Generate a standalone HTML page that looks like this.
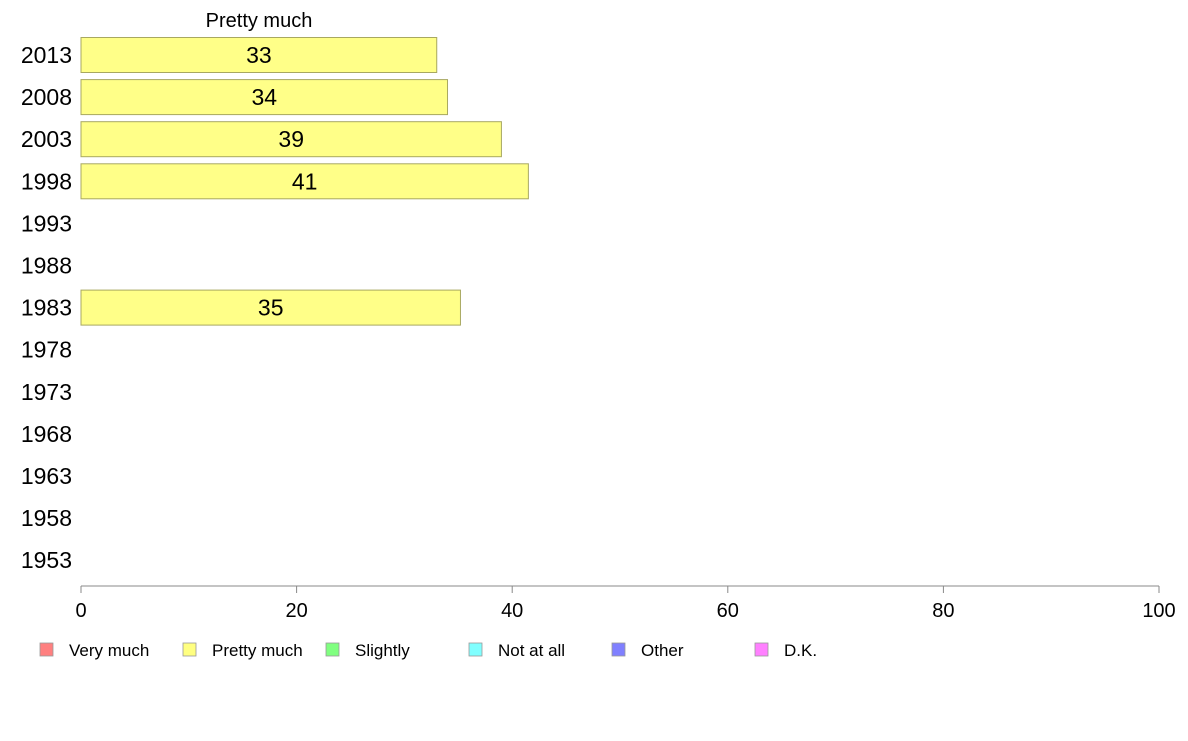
<!DOCTYPE html>
<html><head><meta charset="utf-8"><style>
body{margin:0;background:#fff;font-family:"Liberation Sans",sans-serif}
</style></head><body>
<svg id="chart" width="1188" height="736" xmlns="http://www.w3.org/2000/svg" font-family="Liberation Sans, sans-serif">
<text x="259" y="27" font-size="20" text-anchor="middle">Pretty much</text>
<g id="bars"></g><g id="ylabels"></g><g id="xaxis"></g><g id="legend"></g>
</svg>
<script>
const years=["2013","2008","2003","1998","1993","1988","1983","1978","1973","1968","1963","1958","1953"];
const values=[33,34,39,41.5,null,null,35.2,null,null,null,null,null,null];
const labels=["33","34","39","41","","","35","","","","","",""];
const xTicks=[0,20,40,60,80,100];
const legendNames=["Very much","Pretty much","Slightly","Not at all","Other","D.K."];
const legendColors=["#ff8080","#ffff80","#80ff80","#80ffff","#8080ff","#ff80ff"];
const NS="http://www.w3.org/2000/svg";
const x=v=>81+v*10.78;
const y=i=>55+i*42.1;
function mk(t,a,p){const e=document.createElementNS(NS,t);for(const k in a)e.setAttribute(k,a[k]);p.appendChild(e);return e;}
const bars=document.getElementById('bars'),yl=document.getElementById('ylabels');
years.forEach((yr,i)=>{
 const t=mk('text',{x:72,y:y(i)+8,'font-size':23,'text-anchor':'end'},yl);t.textContent=yr;
 
 
 if(values[i]!=null){
  const r=mk('rect',{x:x(0),y:y(i)-17.5,width:x(values[i])-x(0),height:35,fill:'#ffff88',stroke:'#a8a860','stroke-width':1},bars);
  
  
  const l=mk('text',{x:(x(0)+x(values[i]))/2,y:y(i)+8,'font-size':23,'text-anchor':'middle'},bars);l.textContent=labels[i];
  
  
 }
});
const xa=document.getElementById('xaxis');
const al=mk('line',{x1:x(0),x2:x(100),y1:586,y2:586,stroke:'#888'},xa);


xTicks.forEach(v=>{
 mk('line',{x1:x(v),x2:x(v),y1:586,y2:593,stroke:'#888'},xa);
 const t=mk('text',{x:x(v),y:617,'font-size':20,'text-anchor':'middle'},xa);t.textContent=v;
 
 
});
const lg=document.getElementById('legend');
legendNames.forEach((n,i)=>{
 const lx=40+i*143;
 const g=mk('g',{},lg);
 
 
 mk('rect',{x:lx,y:643,width:13,height:13,fill:legendColors[i],stroke:'#999','stroke-width':0.8},g);
 const t=mk('text',{x:lx+29,y:656,'font-size':17},g);t.textContent=n;
});
</script>
</body></html>
